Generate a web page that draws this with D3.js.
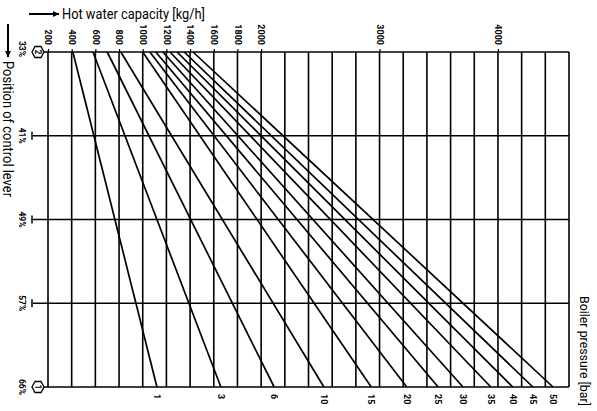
<!DOCTYPE html>
<html>
<head>
<meta charset="utf-8">
<script src="https://cdn.jsdelivr.net/npm/d3@7"></script>
<style>
  html, body { margin: 0; padding: 0; background: #fff; overflow: hidden; }
  svg { display: block; }
  text { font-family: "Liberation Sans Narrow", "Roboto", "Liberation Sans", sans-serif; fill: #000; }
</style>
</head>
<body>
<svg id="chart" width="597" height="411"></svg>
<script>
// Control lever positions (rows) and hot water capacity axis (columns)
const leverPositions = ["33%", "41%", "49%", "57%", "66%"];
const capacityTicks = [200, 400, 600, 800, 1000, 1200, 1400, 1600, 1800, 2000, 3000, 4000];
const capacityGrid = d3.range(200, 4601, 200);

// Boiler pressure lines: capacity [kg/h] at 33% and at 66% lever position
const pressures = [1, 3, 6, 10, 15, 20, 25, 30, 35, 40, 45, 50];
const capacityAt33 = [410, 580, 700, 815, 1000, 1060, 1110, 1170, 1230, 1290, 1350, 1425];
const capacityAt66 = [1120, 1660, 2110, 2530, 2930, 3230, 3495, 3705, 3940, 4125, 4295, 4465];

const svg = d3.select("#chart");

const x = d3.scaleLinear().domain([200, 4600]).range([48, 569]);
const y = d3.scalePoint().domain(leverPositions).range([52, 387]);

const yTop = y(leverPositions[0]);
const yBottom = y(leverPositions[leverPositions.length - 1]);

// vertical grid
svg.append("g")
  .selectAll("line")
  .data(capacityGrid)
  .join("line")
  .attr("x1", d => x(d)).attr("x2", d => x(d))
  .attr("y1", yTop).attr("y2", yBottom)
  .attr("stroke", "#000").attr("stroke-width", 1.6);

// horizontal grid (lever positions)
svg.append("g")
  .selectAll("line")
  .data(leverPositions)
  .join("line")
  .attr("x1", (d, i) => (i === 0 || i === leverPositions.length - 1) ? 44 : 33)
  .attr("x2", x(4600))
  .attr("y1", d => y(d)).attr("y2", d => y(d))
  .attr("stroke", "#000").attr("stroke-width", 1.6);

// left tick marks
svg.append("g")
  .selectAll("line")
  .data(leverPositions.slice(1, -1))
  .join("line")
  .attr("x1", 32).attr("x2", 32)
  .attr("y1", d => y(d) - 4).attr("y2", d => y(d) + 4)
  .attr("stroke", "#000").attr("stroke-width", 1.5);

// top axis
const xAxis = d3.axisTop(x).tickValues(capacityTicks).tickSize(3).tickPadding(0).tickFormat(d3.format("d"));
const gx = svg.append("g").attr("transform", `translate(0,${yTop})`).call(xAxis);
gx.select(".domain").remove();
gx.selectAll(".tick line").attr("stroke", "#000").attr("stroke-width", 1.2);
gx.selectAll(".tick text")
  .attr("x", 0).attr("y", 0).attr("dy", "0.35em")
  .attr("text-anchor", "end")
  .attr("transform", "translate(0,-7) rotate(90)")
  .style("font-size", "9px").style("font-weight", "bold");

// pressure lines
svg.append("g")
  .selectAll("line")
  .data(pressures)
  .join("line")
  .attr("x1", (d, i) => x(capacityAt33[i])).attr("y1", yTop)
  .attr("x2", (d, i) => x(capacityAt66[i])).attr("y2", yBottom)
  .attr("stroke", "#000").attr("stroke-width", 1.7);

// pressure labels
svg.append("g")
  .selectAll("text")
  .data(pressures)
  .join("text")
  .attr("transform", (d, i) => `translate(${x(capacityAt66[i])},${yBottom + 7}) rotate(90)`)
  .attr("dy", "0.35em")
  .attr("text-anchor", "start")
  .style("font-size", "9px").style("font-weight", "bold")
  .text(d => d);

// lever position labels
svg.append("g")
  .selectAll("text")
  .data(leverPositions)
  .join("text")
  .attr("transform", (d, i) => `translate(22,${i === 0 ? y(d) - 3 : y(d)}) rotate(90)`)
  .attr("dy", "0.35em")
  .attr("text-anchor", "middle")
  .style("font-size", "8.5px").style("font-weight", "bold")
  .text(d => d);

// end-position markers
const markers = [{pos: leverPositions[0], label: "2"}, {pos: leverPositions[4], label: "1"}];
const mg = svg.append("g").selectAll("g").data(markers).join("g")
  .attr("transform", d => `translate(38,${y(d.pos)})`);
mg.append("path")
  .attr("d", "M-6,0 L-3,-5.5 L3,-5.5 L6,0 L3,5.5 L-3,5.5 Z")
  .attr("fill", "#fff").attr("stroke", "#000").attr("stroke-width", 1.3);
mg.append("text")
  .attr("transform", "rotate(90)")
  .attr("dy", "0.35em").attr("text-anchor", "middle")
  .style("font-size", "8.5px").style("font-weight", "bold")
  .text(d => d.label);

// arrow marker
svg.append("defs").append("marker")
  .attr("id", "arrow").attr("viewBox", "0 0 10 10")
  .attr("refX", 10).attr("refY", 5)
  .attr("markerWidth", 3.2).attr("markerHeight", 3.2)
  .attr("markerUnits", "strokeWidth")
  .attr("orient", "auto")
  .append("path").attr("d", "M0,0 L10,5 L0,10 Z").attr("fill", "#000");

// axis titles
svg.append("line").attr("x1", 29).attr("x2", 59).attr("y1", 14).attr("y2", 14)
  .attr("stroke", "#000").attr("stroke-width", 2).attr("marker-end", "url(#arrow)");
svg.append("text").attr("x", 62).attr("y", 19)
  .attr("textLength", 143).attr("lengthAdjust", "spacingAndGlyphs")
  .style("font-size", "14px")
  .text("Hot water capacity [kg/h]");

svg.append("line").attr("x1", 8).attr("x2", 8).attr("y1", 24).attr("y2", 57)
  .attr("stroke", "#000").attr("stroke-width", 2).attr("marker-end", "url(#arrow)");
svg.append("text")
  .attr("transform", "translate(8,61) rotate(90)")
  .attr("dy", "0.35em")
  .attr("textLength", 136).attr("lengthAdjust", "spacingAndGlyphs")
  .style("font-size", "14px")
  .text("Position of control lever");

svg.append("text")
  .attr("transform", "translate(585,296) rotate(90)")
  .attr("dy", "0.35em")
  .attr("textLength", 110).attr("lengthAdjust", "spacingAndGlyphs")
  .style("font-size", "13px")
  .text("Boiler pressure [bar]");
</script>
</body>
</html>
